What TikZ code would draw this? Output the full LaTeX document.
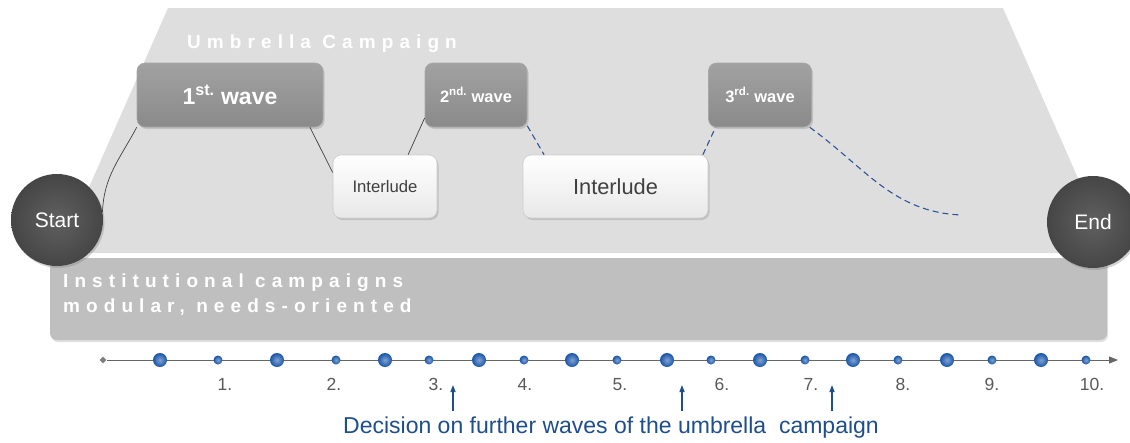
\documentclass[tikz,border=0pt]{standalone}
\usepackage{fontspec}
\setmainfont{Liberation Sans}
\newfontfamily\widefont[LetterSpace=32]{Liberation Sans}
\usepackage{xcolor}
\definecolor{bgLight}{RGB}{222, 222, 222}
\definecolor{bgDark}{RGB}{191, 191, 191}
\definecolor{waveGray}{RGB}{138, 138, 138}
\definecolor{ballGray}{RGB}{82, 82, 82}
\definecolor{lineDark}{RGB}{64, 64, 64}
\definecolor{dashBlue}{RGB}{47, 85, 151}
\definecolor{dotBlue}{RGB}{25, 85, 170}
\definecolor{capBlue}{RGB}{31, 78, 140}
\definecolor{labelGray}{RGB}{89, 89, 89}
\usepackage{tikz}
\usetikzlibrary{
    shapes.geometric,
    arrows.meta,
    shadows
}

\begin{document}
\begin{tikzpicture}[
    x=1pt, y=-1pt,
    waveBox/.style={
        rectangle, rounded corners=8pt,
        draw=waveGray!75!white, line width=0.6pt,
        top color=waveGray!80!white, bottom color=waveGray,
        text=white, align=center, inner sep=0pt,
        minimum height=64pt,
        drop shadow={opacity=0.3, shadow xshift=1.5pt, shadow yshift=-2pt}
    },
    interBox/.style={
        rectangle, rounded corners=8pt,
        draw=black!20, line width=0.6pt,
        top color=white, bottom color=black!9,
        text=black!75, align=center, inner sep=0pt,
        minimum height=63pt,
        drop shadow={opacity=0.3, shadow xshift=1.5pt, shadow yshift=-2pt}
    },
    endBall/.style={
        circle, minimum size=92pt, inner sep=0pt,
        inner color=ballGray!92!white, outer color=ballGray!85!black,
        text=white, font=\fontsize{21}{24}\selectfont,
        drop shadow={opacity=0.35, shadow xshift=1.5pt, shadow yshift=-2pt}
    },
    bigDot/.style={circle, inner sep=0pt, minimum size=14pt,
        inner color=dotBlue!55!white, outer color=dotBlue},
    smallDot/.style={circle, inner sep=0pt, minimum size=9pt,
        inner color=dotBlue!55!white, outer color=dotBlue},
    stepLabel/.style={anchor=base, inner sep=0pt, text=labelGray,
        font=\fontsize{17.5}{20}\selectfont},
    flowLine/.style={line width=0.7pt, draw=lineDark},
    flowDashed/.style={line width=1.1pt, draw=dashBlue, dash pattern=on 6pt off 4pt},
    decArrow/.style={-{Triangle[length=7pt, width=5pt]}, line width=1.3pt, draw=capBlue},
    axisArrow/.style={-{Triangle[length=9pt, width=7pt]}, line width=0.9pt, draw=black!60}
]
    \useasboundingbox (0,0) rectangle (1130,442);

    % Backgrounds: umbrella trapezoid and institutional bar
    \fill[bgLight] (168,8) -- (1003,8) -- (1111,253) -- (60,253) -- cycle;
    \fill[bgDark, rounded corners=7pt,
        drop shadow={opacity=0.25, shadow xshift=1pt, shadow yshift=-2pt}]
        (50,258) rectangle (1107,340);

    \node[anchor=base west, inner sep=0pt, text=white,
        font=\widefont\bfseries\fontsize{19}{22}\selectfont] (umbrellaTitle) at (187,48)
        {Umbrella Campaign};

    \node[anchor=north west, inner sep=0pt, text=white, align=left,
        font=\widefont\bfseries\fontsize{19}{25}\selectfont] (instText) at (63,274)
        {Institutional campaigns\\modular, needs-oriented};

    % Waves and interludes
    \node[waveBox, minimum width=186pt, font=\bfseries\fontsize{23}{26}\selectfont]
        (wave1) at (230,95) {1\textsuperscript{st.} wave};
    \node[waveBox, minimum width=102pt, font=\bfseries\fontsize{16.5}{20}\selectfont]
        (wave2) at (476,95) {2\textsuperscript{nd.} wave};
    \node[waveBox, minimum width=103pt, font=\bfseries\fontsize{16.5}{20}\selectfont]
        (wave3) at (760,95) {3\textsuperscript{rd.} wave};

    \node[interBox, minimum width=104pt, font=\fontsize{16.7}{20}\selectfont]
        (inter1) at (385,186.5) {Interlude};
    \node[interBox, minimum width=185pt, font=\fontsize{21.8}{25}\selectfont]
        (inter2) at (615.5,186.5) {Interlude};

    % Start and end
    \node[endBall] (start) at (57,220) {Start};
    \node[endBall] (end) at (1093,222) {End};

    % Connectors
    \draw[flowLine] (start.10) to[out=88, in=-118] (wave1.south west);
    \draw[flowLine] (wave1.-22) -- (inter1.165);
    \draw[flowLine] (inter1.54) -- (wave2.-156);
    \draw[flowDashed] (wave2.-31) -- (inter2.156);
    \draw[flowDashed] (inter2.20) -- (wave3.-144);
    \coordinate (waveOpen) at (962,215);
    \draw[flowDashed] (wave3.-33) to[out=-36, in=178] (waveOpen);

    % Timeline
    \node[diamond, fill=black!50, inner sep=0pt, minimum size=7pt] (axisStart) at (103,360) {};
    \coordinate (axisEnd) at (1118,360);
    \draw[axisArrow] (axisStart) -- (axisEnd);

    \foreach \x [count=\i] in {160,277,385,479,572,667,760,853,947,1041}
        \node[bigDot] (big\i) at (\x,360) {};
    \foreach \x [count=\i] in {218,336,429,524,617,711,805,898,992,1086}
        \node[smallDot] (small\i) at (\x,360) {};
    \foreach \x [count=\i] in {225,334,436,525,620,722,811,903,992,1092}
        \node[stepLabel] (step\i) at (\x,390) {\i.};

    % Decision points
    \foreach \x [count=\i] in {453,682,832} {
        \coordinate (decFoot\i) at (\x,411);
        \coordinate (decHead\i) at (\x,385);
        \draw[decArrow] (decFoot\i) -- (decHead\i);
    }
    \node[anchor=base, inner sep=0pt, text=capBlue, font=\fontsize{23}{26}\selectfont]
        (decision) at (611,433) {Decision on further waves of the umbrella\ \ campaign};

\end{tikzpicture}
\end{document}
